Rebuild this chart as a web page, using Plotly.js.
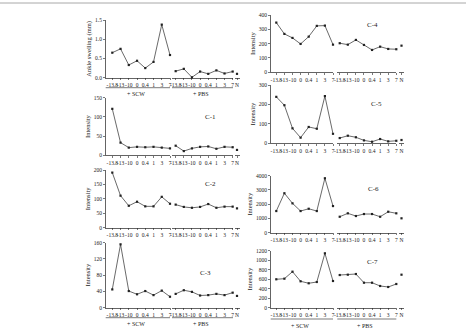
<!DOCTYPE html>
<html>
<head>
<meta charset="utf-8">
<script src="https://cdn.plot.ly/plotly-3.0.1.min.js"></script>
<style>
  html, body { margin: 0; padding: 0; background: #fff; }
  #chart { width: 466px; height: 334px; }
</style>
</head>
<body>
<div id="chart"></div>
<script>
// Sampling time points (same labels for the SCW and PBS series)
const timePoints = ["-13.8", "-13", "-10", "0", "0.4", "1", "3", "7"];
const normalLabel = ["N"];

// Ankle swelling (mm)
const ankleSCW = [0.65, 0.75, 0.33, 0.44, 0.25, 0.41, 1.38, 0.59];
const anklePBS = [0.17, 0.23, 0.01, 0.16, 0.10, 0.19, 0.11, 0.16];
const ankleN   = [0.10];

// Cluster intensities
const c1SCW = [121, 33, 20, 22, 21, 22, 20, 18];
const c1PBS = [25, 11, 18, 22, 23, 17, 22, 21];
const c1N   = [14];

const c2SCW = [191, 111, 76, 90, 74, 74, 107, 83];
const c2PBS = [80, 72, 69, 72, 82, 69, 73, 73];
const c2N   = [67];

const c3SCW = [45, 156, 41, 33, 41, 31, 42, 27];
const c3PBS = [34, 43, 39, 30, 31, 34, 31, 37];
const c3N   = [29];

const c4SCW = [347, 268, 240, 198, 249, 324, 326, 193];
const c4PBS = [203, 193, 226, 191, 156, 179, 163, 161];
const c4N   = [186];

const c5SCW = [239, 196, 77, 29, 84, 75, 243, 49];
const c5PBS = [27, 39, 31, 15, 8, 22, 10, 13];
const c5N   = [17];

const c6SCW = [1520, 2770, 2060, 1520, 1680, 1520, 3820, 1870];
const c6PBS = [1120, 1360, 1170, 1310, 1310, 1120, 1470, 1360];
const c6N   = [1010];

const c7SCW = [598, 611, 758, 556, 514, 541, 1145, 562];
const c7PBS = [688, 695, 709, 526, 526, 457, 436, 499];
const c7N   = [695];

const groupLabels = ["+ SCW", "+ PBS"];
const panelNames = ["", "C-1", "C-2", "C-3", "C-4", "C-5", "C-6", "C-7"];

// ---- layout geometry (pixels) ----
const W = 466, H = 334;
const fx = p => p / W;
const fy = p => 1 - p / H;
const SERIF = "Liberation Serif, Times New Roman, serif";

const columns = [
  { seg1: [105.7, 170], r1: [-0.8, 7], seg2: [172, 233], r2: [-0.45, 7.04], seg3: [234.5, 239.5] },
  { seg1: [270.7, 333], r1: [-0.69, 7], seg2: [337.3, 396.3], r2: [-0.3, 7], seg3: [399, 404] }
];

const panels = [
  { scw: ankleSCW, pbs: anklePBS, n: ankleN, col: 0, top: 20,    bot: 77.7,  range: [0, 1.5],  dtick: 0.5, fmt: ".1f", ytitle: "Ankle swelling (mm)", groups: 87.7, name: panelNames[0] },
  { scw: c1SCW, pbs: c1PBS, n: c1N, col: 0, top: 97.7,  bot: 155.3, range: [0, 150],  dtick: 50,  ytitle: "Intensity", name: panelNames[1], lx: 210, ly: 116.7 },
  { scw: c2SCW, pbs: c2PBS, n: c2N, col: 0, top: 170,   bot: 227.7, range: [0, 200],  dtick: 50,  ytitle: "Intensity", name: panelNames[2], lx: 210, ly: 184 },
  { scw: c3SCW, pbs: c3PBS, n: c3N, col: 0, top: 242.7, bot: 307.7, range: [0, 160],  dtick: 40,  ytitle: "Intensity", name: panelNames[3], lx: 205, ly: 273.3, groups: 317.7 },
  { scw: c4SCW, pbs: c4PBS, n: c4N, col: 1, top: 15,    bot: 72.3,  range: [0, 400],  dtick: 100, ytitle: "Intensity", name: panelNames[4], lx: 372, ly: 25 },
  { scw: c5SCW, pbs: c5PBS, n: c5N, col: 1, top: 85,    bot: 143.3, range: [0, 300],  dtick: 100, ytitle: "Intensity", name: panelNames[5], lx: 376, ly: 104.3 },
  { scw: c6SCW, pbs: c6PBS, n: c6N, col: 1, top: 175.7, bot: 232.7, range: [0, 4000], dtick: 1000, ytitle: "Intensity", name: panelNames[6], lx: 373, ly: 189.3 },
  { scw: c7SCW, pbs: c7PBS, n: c7N, col: 1, top: 250.7, bot: 307.7, range: [0, 1200], dtick: 200, ytitle: "Intensity", name: panelNames[7], lx: 372, ly: 261.7, groups: 319 }
];

const INK = "#222";
const tickFont = { family: SERIF, size: 5.5, color: INK };

const data = [];
const layout = {
  width: W, height: H,
  margin: { l: 0, r: 0, t: 0, b: 0 },
  paper_bgcolor: "#fff",
  plot_bgcolor: "rgba(0,0,0,0)",
  showlegend: false,
  shapes: [
    { type: "line", xref: "paper", yref: "paper", x0: 0, x1: 1, y0: fy(3), y1: fy(3),
      line: { color: "#a8a8a8", width: 1 } }
  ],
  annotations: []
};

function xAxis(domain, range, cats, yName) {
  return {
    type: "category",
    categoryorder: "array",
    categoryarray: cats,
    domain: [fx(domain[0]), fx(domain[1])],
    range: range,
    anchor: yName,
    showline: true, linecolor: INK, linewidth: 0.7,
    ticks: "outside", ticklen: 2, tickwidth: 0.6, tickcolor: INK,
    tickmode: "array", tickvals: cats, ticktext: cats,
    tickangle: 0, tickfont: tickFont,
    showgrid: false, zeroline: false, fixedrange: true
  };
}

const lineStyle = { color: "#2a2a2a", width: 0.7 };
const markerStyle = { color: INK, size: 2.2, symbol: "square" };

panels.forEach((p, i) => {
  const c = columns[p.col];
  const yi = i + 1;
  const xi = [3 * i + 1, 3 * i + 2, 3 * i + 3];
  const yRef = "y" + (yi === 1 ? "" : yi);
  const xRefs = xi.map(k => "x" + (k === 1 ? "" : k));
  const xKeys = xi.map(k => "xaxis" + (k === 1 ? "" : k));

  layout[xKeys[0]] = xAxis(c.seg1, c.r1, timePoints, yRef);
  layout[xKeys[1]] = xAxis(c.seg2, c.r2, timePoints, yRef);
  layout[xKeys[2]] = xAxis(c.seg3, [-0.5, 0.5], normalLabel, yRef);

  layout["yaxis" + (yi === 1 ? "" : yi)] = {
    domain: [fy(p.bot), fy(p.top)],
    range: p.range,
    anchor: xRefs[0],
    tickmode: "linear", tick0: 0, dtick: p.dtick,
    tickformat: p.fmt || "",
    showline: true, linecolor: INK, linewidth: 0.7,
    ticks: "outside", ticklen: 2, tickwidth: 0.6, tickcolor: INK,
    tickfont: tickFont,
    showgrid: false, zeroline: false, fixedrange: true,
    title: { text: p.ytitle, font: { family: SERIF, size: 6.5, color: INK }, standoff: 2 }
  };

  data.push({ type: "scatter", mode: "lines+markers", x: timePoints, y: p.scw,
              xaxis: xRefs[0], yaxis: yRef, line: lineStyle, marker: markerStyle, cliponaxis: false });
  data.push({ type: "scatter", mode: "lines+markers", x: timePoints, y: p.pbs,
              xaxis: xRefs[1], yaxis: yRef, line: lineStyle, marker: markerStyle, cliponaxis: false });
  data.push({ type: "scatter", mode: "markers", x: normalLabel, y: p.n,
              xaxis: xRefs[2], yaxis: yRef, marker: markerStyle, cliponaxis: false });

  if (p.name) {
    layout.annotations.push({
      text: p.name, xref: "paper", yref: "paper", x: fx(p.lx), y: fy(p.ly),
      xanchor: "center", yanchor: "middle", showarrow: false,
      font: { family: SERIF, size: 7, color: INK }
    });
  }

  if (p.groups) {
    [xRefs[0], xRefs[1]].forEach((xr, g) => {
      layout.shapes.push({
        type: "line", xref: xr + " domain", yref: "paper",
        x0: 0, x1: 1, y0: fy(p.groups), y1: fy(p.groups),
        line: { color: INK, width: 0.6 }
      });
      layout.annotations.push({
        text: groupLabels[g], xref: xr + " domain", yref: "paper",
        x: 0.47, y: fy(p.groups + 6.5), xanchor: "center", yanchor: "middle",
        showarrow: false, font: { family: SERIF, size: 6, color: INK }
      });
    });
  }
});

Plotly.newPlot("chart", data, layout, { staticPlot: true, displayModeBar: false });
</script>
</body>
</html>
